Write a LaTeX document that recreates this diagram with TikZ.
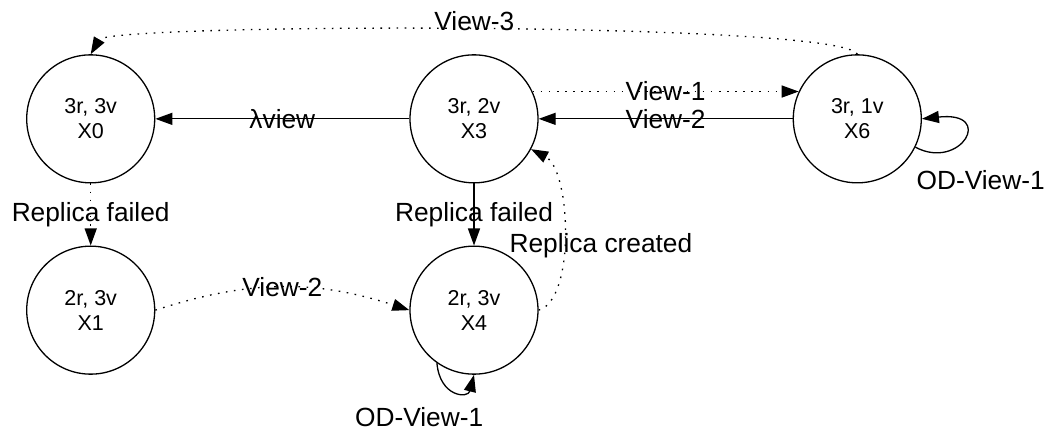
\documentclass[tikz,border=0pt]{standalone}
\usepackage{fontspec}
\setmainfont{Liberation Sans}
\usetikzlibrary{arrows.meta,positioning}

\begin{document}
\begin{tikzpicture}[x=1pt,y=1pt,
                    state/.style ={circle, draw=black, line width=1.3pt,
                        minimum size=128pt, inner sep=0pt, align=center,
                        font=\fontsize{21.5}{25}\selectfont},
                    line/.style ={draw, line width=1.3pt,
                        -{Triangle[length=17pt,width=12pt]}},
                    dots/.style ={line, dash pattern=on 1.6pt off 6.5pt},
                    lbl/.style ={inner sep=0pt, font=\fontsize{26.3}{30}\selectfont}]
  \useasboundingbox (0,0) rectangle (1046,431);

  % states in a 2x3 matrix
  \matrix [column sep=254pt,row sep=62pt] at (474,216.5) {
    % top row
    \node [state] (x0) {3r, 3v\\X0};
    & \node [state] (x3) {3r, 2v\\X3};
    & \node [state] (x6) {3r, 1v\\X6}; \\
    % bottom row
    \node [state] (x1) {2r, 3v\\X1};
    & \node [state] (x4) {2r, 3v\\X4};
    & \\
  };

  % transitions
  \path [line] (x3) -- node[lbl] {λview} (x0);
  \path [dots] (x3.25) -- node[lbl] {View-1} (x6.155);
  \path [line] (x6) -- node[lbl] {View-2} (x3);
  \path [dots] (x6.north) .. controls +(-17,33) and +(18,31) ..
        node[lbl, pos=0.5, above, yshift=-1pt] {View-3} (x0.north);
  \path [dots] (x0) -- node[lbl] {Replica failed} (x1);
  \path [line] (x3) -- node[lbl] {Replica failed} (x4);
  \path [dots] (x1.east) to[bend left=18] node[lbl] {View-2} (x4.west);
  \path [dots] (x4.east) .. controls +(37,10) and +(40,-21) ..
        node[lbl, pos=0.45, xshift=37pt, yshift=-1pt] {Replica created} (x3.-28);

  % self loops
  \path [line] (x6.-26) .. controls +(45,-24) and +(74,8) ..
        node[lbl, pos=0.3, xshift=30pt, yshift=-30pt] {OD-View-1} (x6.east);
  \path [line] (x4.-125) .. controls +(3,-34) and +(-6,-24) ..
        node[lbl, pos=0.3, xshift=-26pt, yshift=-32pt] {OD-View-1} (x4.south);
\end{tikzpicture}
\end{document}
